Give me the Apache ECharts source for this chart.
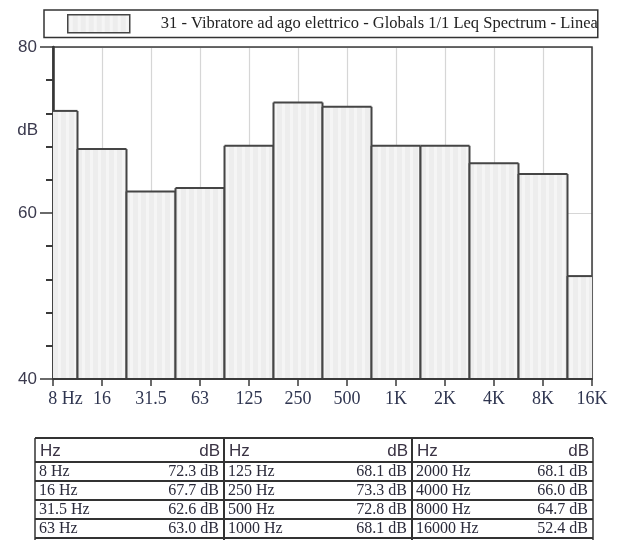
<!DOCTYPE html>
<html>
<head>
<meta charset="utf-8">
<title>1/1 Octave Leq Spectrum</title>
<script src="https://cdn.jsdelivr.net/npm/echarts@6/dist/echarts.min.js"></script>
<style>
  html, body { margin: 0; padding: 0; background: #ffffff; }
  #chart { width: 640px; height: 540px; }
</style>
</head>
<body>
<div id="chart"></div>
<script>
// Octave bands, their axis labels and measured levels
const bandLabels = ['8 Hz', '16', '31.5', '63', '125', '250', '500', '1K', '2K', '4K', '8K', '16K'];
const bandHz = [8, 16, 31.5, 63, 125, 250, 500, 1000, 2000, 4000, 8000, 16000];
const levelsDb = [72.3, 67.7, 62.6, 63.0, 68.1, 73.3, 72.8, 68.1, 68.1, 66.0, 64.7, 52.4];
const yMin = 40, yMax = 80, yStep = 20;
const seriesName = '31 - Vibratore ad ago elettrico - Globals 1/1 Leq Spectrum - Linear';

const SERIF = '"Liberation Serif", "Times New Roman", serif';
const SANS = '"Liberation Sans", Arial, sans-serif';
const OUTLINE = '#454545';

// light striped fill used for the bars and the legend swatch
const stripe = document.createElement('canvas');
stripe.width = 8; stripe.height = 4;
const sg = stripe.getContext('2d');
sg.fillStyle = '#ededed'; sg.fillRect(0, 0, 8, 4);
sg.fillStyle = '#f5f5f5'; sg.fillRect(2, 0, 3, 4);
const stripeFill = { image: stripe, repeat: 'repeat' };

const chart = echarts.init(document.getElementById('chart'), null, { renderer: 'canvas' });

// one band = one full-width step centred on its tick, clipped to the plot
function renderBand(params, api) {
  const i = api.value(0);
  const v = api.value(1);
  const cs = params.coordSys;
  const pTop = api.coord([i - 0.5, v]);
  const pBase = api.coord([i + 0.5, yMin]);
  const hasLeft = pTop[0] >= cs.x - 0.5;
  const hasRight = pBase[0] <= cs.x + cs.width + 0.5;
  const left = Math.max(pTop[0], cs.x);
  const right = Math.min(pBase[0], cs.x + cs.width);
  const top = pTop[1], base = pBase[1];
  const lineStyle = { stroke: OUTLINE, lineWidth: 2, fill: null };
  const children = [
    { type: 'rect', shape: { x: left, y: top, width: right - left, height: base - top },
      style: { fill: stripeFill } },
    { type: 'line', shape: { x1: left, y1: top, x2: right, y2: top }, style: lineStyle }
  ];
  if (hasLeft) children.push({ type: 'line', shape: { x1: left, y1: top, x2: left, y2: base }, style: lineStyle });
  if (hasRight) children.push({ type: 'line', shape: { x1: right, y1: top, x2: right, y2: base }, style: lineStyle });
  return { type: 'group', children };
}

// summary table under the chart, built from the same arrays
function buildTable() {
  const cols = [35, 224, 412, 593];
  const top = 438, headBottom = 462, rowH = 19, rows = 4;
  const els = [];
  const ln = (x1, y1, x2, y2, w) => els.push({
    type: 'line', shape: { x1, y1, x2, y2 }, style: { stroke: '#333', lineWidth: w || 1.5 }, silent: true
  });
  const txt = (x, y, text, align, font, color) => els.push({
    type: 'text', x, y, silent: true,
    style: { text, textAlign: align, textVerticalAlign: 'middle', font, fill: color || '#222' }
  });
  ln(cols[0], top, cols[3], top, 2);
  ln(cols[0], headBottom, cols[3], headBottom, 2);
  for (let r = 1; r <= rows; r++) ln(cols[0], headBottom + r * rowH, cols[3], headBottom + r * rowH, 1.8);
  cols.forEach((x, k) => ln(x, top, x, 560, k === 0 || k === 3 ? 1.5 : 2));
  for (let g = 0; g < 3; g++) {
    const x0 = cols[g], x1 = cols[g + 1];
    txt(x0 + 5, (top + headBottom) / 2 + 1, 'Hz', 'left', '17px ' + SANS, '#3a3344');
    txt(x1 - 4, (top + headBottom) / 2 + 1, 'dB', 'right', '17px ' + SANS, '#3a3344');
    for (let r = 0; r < rows; r++) {
      const idx = g * rows + r;
      const cy = headBottom + r * rowH + rowH / 2;
      txt(x0 + 4, cy, String(bandHz[idx]) + ' Hz', 'left', '16px ' + SERIF, '#2a2a3a');
      txt(x1 - 5, cy, levelsDb[idx].toFixed(1) + ' dB', 'right', '16px ' + SERIF, '#2a2a3a');
    }
  }
  return els;
}

const bandData = levelsDb.map((v, i) => [i, v]);

chart.setOption({
  animation: false,
  backgroundColor: '#ffffff',
  grid: {
    left: 53, top: 47, width: 539, height: 332,
    show: true, borderColor: '#3a3a3a', borderWidth: 1.5, backgroundColor: 'transparent',
    z: 1, outerBoundsMode: 'none', containLabel: false
  },
  legend: {
    show: true, selectedMode: false,
    left: 44, top: 10,
    padding: [4, 0, 4, 23],
    borderColor: '#333', borderWidth: 1.5,
    itemWidth: 62, itemHeight: 18,
    itemStyle: { color: stripeFill, borderColor: OUTLINE, borderWidth: 1.5 },
    textStyle: {
      fontFamily: SERIF, fontSize: 16.5, color: '#222',
      width: 441, overflow: 'truncate', ellipsis: '',
      padding: [0, 0, 0, 26]
    },
    data: [{ name: seriesName, icon: 'rect' }]
  },
  xAxis: [
    { // vertical grid lines only, kept beneath the bars
      type: 'value', min: 0, max: bandLabels.length - 1, interval: 1, z: 0,
      position: 'bottom',
      axisLine: { show: false }, axisTick: { show: false }, axisLabel: { show: false },
      splitLine: { show: true, lineStyle: { color: '#d6d6d6', width: 1.2 } }
    },
    { // baseline, ticks and band labels drawn above the bars
      type: 'value', min: 0, max: bandLabels.length - 1, interval: 1, z: 3,
      position: 'bottom',
      axisLine: { show: true, onZero: false, lineStyle: { color: '#3a3a3a', width: 2 } },
      axisTick: { show: true, length: 7, lineStyle: { color: '#3a3a3a', width: 1.5 } },
      splitLine: { show: false },
      axisLabel: {
        margin: 11, color: '#2f3550', fontFamily: SERIF, fontSize: 18,
        formatter: (v) => {
          const lab = bandLabels[Math.round(v)];
          return Math.round(v) === 0 ? '{pad|}{t|' + lab + '}' : lab;
        },
        rich: {
          pad: { width: 25 },
          t: { fontFamily: SERIF, fontSize: 18, color: '#2f3550' }
        }
      }
    }
  ],
  yAxis: [
    {
      type: 'value', min: yMin, max: yMax, interval: yStep, z: 0,
      axisLine: { show: true, lineStyle: { color: '#2e2e2e', width: 2.5 } },
      axisTick: { show: true, length: 13, lineStyle: { color: '#3a3a3a', width: 1.5 } },
      minorTick: { show: true, splitNumber: 5, length: 7, lineStyle: { color: '#3a3a3a', width: 2 } },
      minorSplitLine: { show: false },
      splitLine: { show: true, lineStyle: { color: '#d6d6d6', width: 1.2 } },
      axisLabel: { margin: 16, color: '#3b3a4e', fontFamily: SANS, fontSize: 17 }
    },
    { // unit caption placed at the 70 dB level
      type: 'value', min: yMin, max: yMax, interval: 10, position: 'left', z: 0,
      axisLine: { show: false }, axisTick: { show: false }, splitLine: { show: false },
      axisLabel: {
        margin: 15, color: '#3b3a4e', fontFamily: SANS, fontSize: 17,
        formatter: (v) => (v === 70 ? 'dB' : '')
      }
    }
  ],
  series: [{
    name: seriesName,
    type: 'custom',
    xAxisIndex: 0, yAxisIndex: 0,
    z: 2,
    clip: true,
    itemStyle: { color: stripeFill, borderColor: OUTLINE },
    renderItem: renderBand,
    encode: { x: 0, y: 1 },
    data: bandData
  }],
  graphic: buildTable()
});
</script>
</body>
</html>
